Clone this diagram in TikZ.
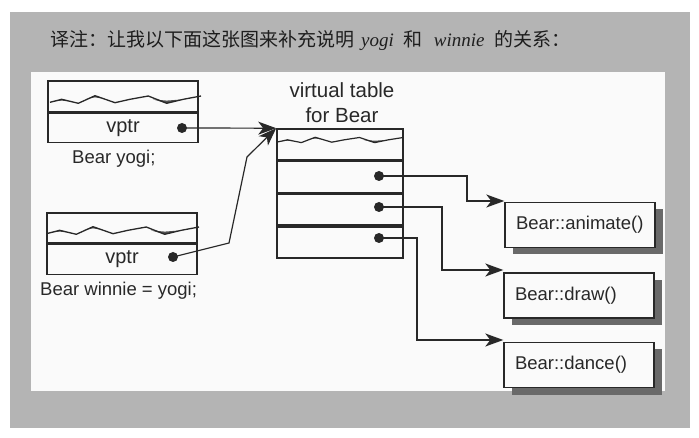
\documentclass[tikz,border=0pt]{standalone}
\usepackage{fontspec}
\setmainfont{Liberation Sans}
\newfontfamily\cjkfont{Noto Sans CJK SC}
\newfontfamily\serfont{Liberation Serif}
\usetikzlibrary{arrows.meta,shadows}
\definecolor{ink}{RGB}{40,40,40}
\definecolor{bggray}{RGB}{180,180,180}
\definecolor{panel}{RGB}{250,250,250}
\definecolor{shadowgray}{RGB}{105,105,105}
\definecolor{wavefill}{RGB}{80,80,80}
\newcommand\bearwave[4]{%
  \begin{scope}[shift={#1},xscale=#2,yscale=#3]
    \fill[wavefill] (4,20.6) -- (12.7,18.3) -- (20,20.4) -- (12.7,19.6) -- cycle;
    \fill[wavefill] (37,18.2) -- (46,14.7) -- (55,17.8) -- (46,16.4) -- cycle;
    \fill[wavefill] (104,18.4) -- (117.7,22.3) -- (131,18.6) -- (117.7,19.6) -- cycle;
    \draw[ink,line width=#4,line join=round] (1,21.3) -- (12.7,18.3) -- (29.3,22.3) -- (46,14.7) -- (66,21.7) -- (81,18.3) -- (99.3,15) -- (117.7,22.3) -- (134.3,18.3) -- (152,15);
  \end{scope}}
\begin{document}
\begin{tikzpicture}[x=1pt,y=-1pt,
  cell/.style={draw=ink,line width=1.6pt,minimum width=150pt,inner sep=0pt,text=ink,
    font=\fontsize{20}{23}\selectfont},
  vcell/.style={draw=ink,line width=1.6pt,minimum width=126pt,minimum height=31pt,inner sep=0pt},
  dotnode/.style={circle,fill=ink,inner sep=0pt,minimum size=10pt},
  arr/.style={draw=ink,line width=1.2pt,-{Stealth[length=18pt,width=13pt,inset=5pt]}},
  func/.style={draw=ink,line width=1.4pt,fill=panel,text width=128pt,align=left,
    inner xsep=11pt,inner ysep=0pt,minimum height=45pt,text=ink,
    font=\fontsize{18.5}{21}\selectfont,
    general shadow={fill=shadowgray,shadow xshift=8pt,shadow yshift=-7pt}},
  lbl/.style={text=ink,inner sep=0pt,font=\fontsize{18.5}{21}\selectfont},
  ttl/.style={text=ink,inner sep=0pt,font=\fontsize{20.5}{23}\selectfont},
  divider/.style={draw=ink,line width=2.6pt}]
\useasboundingbox (0,0) rectangle (699,438);
\fill[white] (0,0) rectangle (699,438);
\fill[bggray] (10,12) rectangle (690,428);
\fill[panel] (31,72) rectangle (665,391);
% title
\node[anchor=west,inner sep=0pt,text={rgb,255:red,30;green,30;blue,30},font=\fontsize{19}{22}\selectfont] (title) at (50,41)
 {{\cjkfont 译注：让我以下面这张图来补充说明}\hspace{7pt}{\serfont\itshape yogi}\hspace{10pt}{\cjkfont 和}\hspace{11pt}{\serfont\itshape winnie}\hspace{10pt}{\cjkfont 的关系：}};
% yogi
\node[cell,minimum height=31pt] (yt) at (123,96.5) {};
\node[cell,minimum height=29pt,anchor=north] (yv) at (yt.south) {vptr};
\draw[divider] (yt.south west) -- (yt.south east);
\bearwave{(49,81)}{1}{1}{1.3pt}
\node[dotnode] (yd) at (182,128) {};
\node[lbl,anchor=base west] (ylab) at (72,164) {Bear yogi;};
% winnie
\node[cell,minimum height=30pt] (wt) at (122,228) {};
\node[cell,minimum height=30pt,anchor=north] (wv) at (wt.south) {vptr};
\draw[divider] (wt.south west) -- (wt.south east);
\bearwave{(47,212)}{1}{1}{1.3pt}
\node[dotnode] (wd) at (173,257) {};
\node[lbl,anchor=base west] (wlab) at (40,296) {Bear winnie = yogi;};
% virtual table
\node[ttl,anchor=base] (vtt1) at (342,98) {virtual table};
\node[ttl,anchor=base] (vtt2) at (342,123) {for Bear};
\node[vcell] (vt1) at (340,144.5) {};
\node[vcell,anchor=north] (vt2) at (vt1.south) {};
\node[vcell,anchor=north] (vt3) at (vt2.south) {};
\node[vcell,anchor=north] (vt4) at (vt3.south) {};
\bearwave{(277,127)}{0.83}{0.7}{1.2pt}
\node[dotnode] (d1) at (379,176) {};
\node[dotnode] (d2) at (379,207) {};
\node[dotnode] (d3) at (379,238) {};
% functions
\node[func] (fa) at (580,225) {Bear::animate()};
\node[func] (fb) at (579,295.5) {Bear::draw()};
\node[func] (fc) at (579,365) {Bear::dance()};
% connectors
\draw[arr] (yd.center) -- (vt1.north west);
\coordinate (wb1) at (229,243);
\coordinate (wb2) at (247,157);
\draw[arr] (wd.center) -- (wb1) -- (wb2) -- (vt1.north west);
\coordinate (k1) at (467,201);
\coordinate (k2) at (442,270);
\coordinate (k3) at (417,340);
\draw[arr] (d1.center) -| (k1) -- (fa.west |- k1);
\draw[arr] (d2.center) -| (k2) -- (fb.west |- k2);
\draw[arr] (d3.center) -| (k3) -- (fc.west |- k3);
\end{tikzpicture}
\end{document}
